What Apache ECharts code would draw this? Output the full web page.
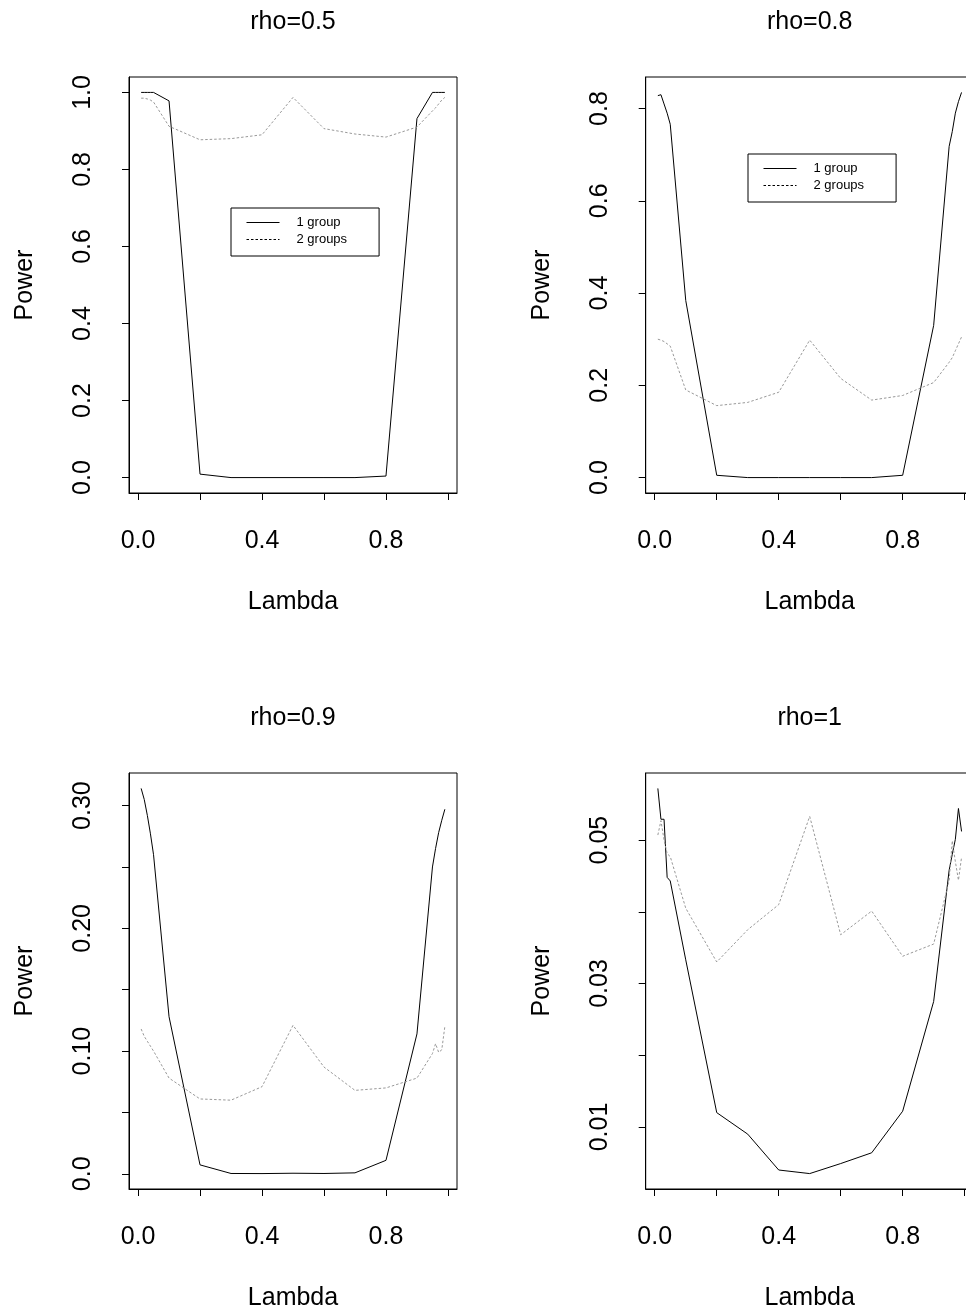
<!DOCTYPE html>
<html><head><meta charset="utf-8">
<script src="https://cdn.jsdelivr.net/npm/echarts@6/dist/echarts.min.js"></script>
<style>html,body{margin:0;padding:0;overflow:hidden;background:#fff}#c{width:990px;height:1312px}</style>
</head><body><div id="c"></div>
<script>
// ---- data ----
const lambda = [0.01,0.02,0.03,0.04,0.05,0.1,0.2,0.3,0.4,0.5,0.6,0.7,0.8,0.9,0.95,0.96,0.97,0.98,0.99];
const seriesNames = ['1 group','2 groups'];
const panelTitles = ['rho=0.5','rho=0.8','rho=0.9','rho=1'];

const rho05One = [1.0,1.0,1.0,1.0,1.0,0.978,0.009,0.0,0.0,0.0,0.0,0.0,0.004,0.932,1.0,1.0,1.0,1.0,1.0];
const rho05Two = [0.985,0.985,0.983,0.98,0.975,0.912,0.877,0.880,0.890,0.987,0.906,0.892,0.884,0.910,0.952,0.96,0.97,0.98,0.987];

const rho08One = [0.828,0.830,0.810,0.790,0.766,0.384,0.005,0.0,0.0,0.0,0.0,0.0,0.005,0.330,0.718,0.750,0.790,0.815,0.835];
const rho08Two = [0.300,0.298,0.295,0.290,0.285,0.190,0.156,0.163,0.185,0.298,0.215,0.168,0.178,0.206,0.250,0.260,0.275,0.290,0.305];

const rho09One = [0.314,0.305,0.292,0.277,0.260,0.128,0.0073,0.0003,0.0002,0.0005,0.0003,0.0008,0.011,0.114,0.250,0.265,0.278,0.288,0.297];
const rho09Two = [0.118,0.112,0.108,0.104,0.100,0.078,0.061,0.060,0.071,0.121,0.087,0.068,0.070,0.078,0.098,0.106,0.099,0.101,0.120];

const rho1One = [0.0572,0.0529,0.0529,0.0448,0.0443,0.0333,0.0120,0.0090,0.0040,0.0035,0.0049,0.0064,0.0122,0.0275,0.0458,0.0480,0.0501,0.0544,0.0512];
const rho1Two = [0.0507,0.0527,0.0500,0.0481,0.0477,0.0405,0.0330,0.0375,0.0410,0.0533,0.0368,0.0401,0.0338,0.0355,0.0444,0.0499,0.0470,0.0444,0.0476];

// ---- tick positions and labels ----
const xTicks = [0,0.2,0.4,0.6,0.8,1.0];
const xTickLabels = [0,0.4,0.8];
const yTicks1 = [0,0.2,0.4,0.6,0.8,1.0];
const yLabels1 = [0,0.2,0.4,0.6,0.8,1.0];
const yTicks2 = [0,0.2,0.4,0.6,0.8];
const yLabels2 = [0,0.2,0.4,0.6,0.8];
const yTicks3 = [0,0.05,0.10,0.15,0.20,0.25,0.30];
const yLabels3 = [0,0.10,0.20,0.30];
const yTicks4 = [0.01,0.02,0.03,0.04,0.05];
const yLabels4 = [0.01,0.03,0.05];

// ---- build ----
const FONT = '"Liberation Sans", Arial, Helvetica, sans-serif';
const FS = 25;
function rRange(arrs){
  const all = [].concat(...arrs);
  const lo = Math.min(...all), hi = Math.max(...all);
  const e = (hi - lo) * 0.04;
  return [lo - e, hi + e];
}
const panels = [
  {one: rho05One, two: rho05Two, ticks: yTicks1, labels: yLabels1, fmt: v => v.toFixed(1)},
  {one: rho08One, two: rho08Two, ticks: yTicks2, labels: yLabels2, fmt: v => v.toFixed(1)},
  {one: rho09One, two: rho09Two, ticks: yTicks3, labels: yLabels3, fmt: v => v === 0 ? '0.0' : v.toFixed(2)},
  {one: rho1One, two: rho1Two, ticks: yTicks4, labels: yLabels4, fmt: v => v.toFixed(2)}
];
const colX = [129, 645.7];
const rowY = [77, 773];
const GW = 328, GH = 416;
const xr = rRange([lambda]);
const DASH_COLOR = '#999';

const grid = [], xAxis = [], yAxis = [], series = [], title = [];
panels.forEach((p, i) => {
  const cx = colX[i % 2], cy = rowY[Math.floor(i / 2)];
  grid.push({left: cx, top: cy, width: GW, height: GH, show: true, borderColor: '#000', borderWidth: 1, backgroundColor: 'transparent'});
  xAxis.push({
    type: 'value', gridIndex: i, min: xr[0], max: xr[1],
    name: 'Lambda', nameLocation: 'middle', nameGap: 97,
    nameTextStyle: {fontSize: FS, color: '#000', fontFamily: FONT},
    axisLine: {show: true, onZero: false, lineStyle: {color: '#000', width: 1}},
    axisTick: {show: true, length: 7, customValues: xTicks, lineStyle: {color: '#000'}},
    axisLabel: {customValues: xTickLabels, margin: 36, fontSize: FS, color: '#000', fontFamily: FONT, formatter: v => v.toFixed(1)},
    splitLine: {show: false}
  });
  const yr = rRange([p.one, p.two]);
  yAxis.push({
    type: 'value', gridIndex: i, min: yr[0], max: yr[1],
    name: 'Power', nameLocation: 'middle', nameRotate: 90, nameGap: 91,
    nameTextStyle: {fontSize: FS, color: '#000', fontFamily: FONT},
    axisLine: {show: true, onZero: false, lineStyle: {color: '#000', width: 1}},
    axisTick: {show: true, length: 7, customValues: p.ticks, lineStyle: {color: '#000'}},
    axisLabel: {customValues: p.labels, rotate: 90, margin: 33, fontSize: FS, color: '#000', fontFamily: FONT, formatter: p.fmt},
    splitLine: {show: false}
  });
  series.push({
    name: seriesNames[0], type: 'line', xAxisIndex: i, yAxisIndex: i, symbol: 'none',
    lineStyle: {color: '#000', width: 1}, itemStyle: {color: '#000'},
    data: lambda.map((x, k) => [x, p.one[k]]), animation: false, silent: true
  });
  series.push({
    name: seriesNames[1], type: 'line', xAxisIndex: i, yAxisIndex: i, symbol: 'none',
    lineStyle: {color: DASH_COLOR, width: 1, type: [2.5, 2]}, itemStyle: {color: DASH_COLOR},
    data: lambda.map((x, k) => [x, p.two[k]]), animation: false, silent: true
  });
  title.push({
    text: panelTitles[i], left: cx + GW / 2, top: cy - 67, textAlign: 'center', padding: 0,
    textStyle: {fontSize: FS, fontWeight: 'normal', color: '#000', fontFamily: FONT}
  });
});

function makeLegend(left, top) {
  const hidden = {opacity: 0, color: 'transparent', borderWidth: 0};
  return {
    left: left, top: top, orient: 'vertical', selectedMode: false,
    itemWidth: 33, itemHeight: 14, itemGap: 4,
    padding: [8, 32, 10, 15],
    borderColor: '#000', borderWidth: 1, backgroundColor: '#fff',
    textStyle: {fontSize: 13, color: '#000', fontFamily: FONT, padding: [0, 0, 0, 12]},
    data: [
      {name: seriesNames[0], itemStyle: hidden, lineStyle: {color: '#000', type: 'solid', width: 1, opacity: 1}},
      {name: seriesNames[1], itemStyle: hidden, lineStyle: {color: '#000', type: [2.5, 2], width: 1, opacity: 1}}
    ]
  };
}

const chart = echarts.init(document.getElementById('c'), null, {renderer: 'canvas'});
chart.setOption({
  animation: false,
  backgroundColor: '#fff',
  textStyle: {fontFamily: FONT},
  title: title,
  legend: [makeLegend(231, 208), makeLegend(748, 154)],
  grid: grid, xAxis: xAxis, yAxis: yAxis, series: series
});
</script></body></html>
